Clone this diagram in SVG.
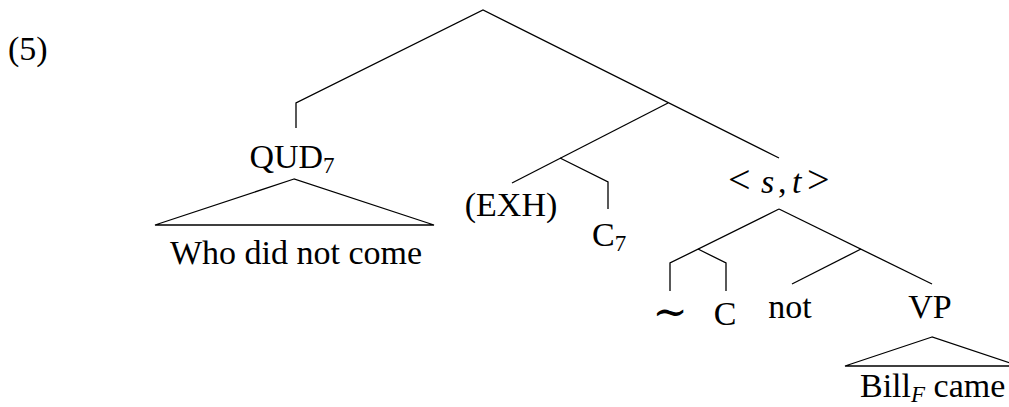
<svg xmlns="http://www.w3.org/2000/svg" width="1009" height="407" viewBox="0 0 1009 407">
<style>
text{font-family:"Liberation Serif","DejaVu Serif",serif;font-size:34px;fill:#000}
.sub{font-size:23px}
.it{font-style:italic}
.rel{font-size:40px}
#edges line,#edges polyline,#edges polygon{stroke:#000;stroke-width:1.3;fill:none}
</style>
<rect width="1009" height="407" fill="#fff"/>
<g id="label"><text x="8" y="60">(5)</text></g>
<g id="edges">
<polyline points="296,128 296,103 483,10 779,158"/>
<line x1="668" y1="103" x2="512" y2="183"/>
<polyline points="560,158 608,182 608,209"/>
<polygon points="294,179 155,225 434,225"/>
<line x1="779" y1="209" x2="932" y2="284"/>
<polyline points="779,209 670,263 670,291"/>
<polyline points="698,249 726,263 726,291"/>
<line x1="861" y1="249" x2="792" y2="284"/>
<polygon points="932,337 845,366 1019,366"/>
</g>
<g id="n-qud"><text x="292" y="168" text-anchor="middle">QUD<tspan class="sub" dy="5">7</tspan></text></g>
<g id="n-who"><text x="296" y="264" text-anchor="middle">Who did not come</text></g>
<g id="n-exh"><text x="511" y="216" text-anchor="middle">(EXH)</text></g>
<g id="n-c7"><text x="592" y="246">C<tspan class="sub" dy="5">7</tspan></text></g>
<g id="n-st"><text y="193"><tspan class="rel" x="728">&lt;</tspan><tspan class="it" x="761">s</tspan><tspan x="778">,</tspan><tspan class="it" x="792">t</tspan><tspan class="rel" x="807">&gt;</tspan></text></g>
<g id="n-sim"><text x="670" y="326" text-anchor="middle" style="font-size:42px">∼</text></g>
<g id="n-c"><text x="725" y="325" text-anchor="middle">C</text></g>
<g id="n-not"><text x="790" y="318" text-anchor="middle">not</text></g>
<g id="n-vp"><text x="930" y="318" text-anchor="middle">VP</text></g>
<g id="n-bill"><text x="860" y="397">Bill<tspan class="sub it" dy="5">F</tspan><tspan dy="-5"> came</tspan></text></g>
</svg>
